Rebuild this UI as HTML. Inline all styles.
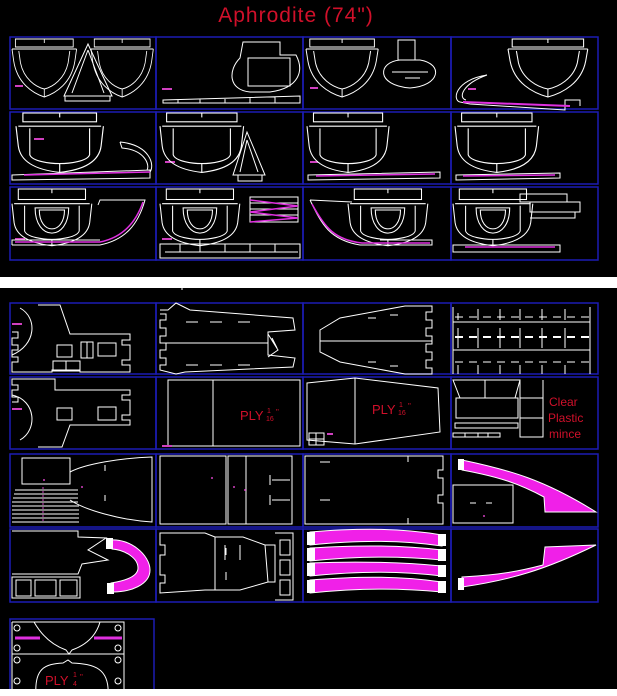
<!DOCTYPE html>
<html><head><meta charset="utf-8"><style>
html,body{margin:0;padding:0;background:#000;}
svg{display:block}
</style></head><body>
<svg width="617" height="696" viewBox="0 0 617 696" xmlns="http://www.w3.org/2000/svg">
<rect width="617" height="696" fill="#000"/>
<defs>
<g id="hu" fill="none" stroke="#fff" stroke-width="1">
<rect x="4" y="0" width="68" height="8"/><path d="M38,0V4"/>
<path d="M0,10H76"/>
<path d="M0,10 L2,22 C6,44 24,54 38,58 C52,54 70,44 74,22 L76,10"/>
<path d="M8,12 L10,24 C14,40 28,48 38,50 C48,48 62,40 66,24 L68,12"/>
<path d="M38,50V58"/>
</g>
<g id="hb" fill="none" stroke="#fff" stroke-width="1">
<rect x="6" y="0" width="64" height="8"/><path d="M38,0V4"/>
<path d="M2,12H74"/>
<path d="M0,12 L2,30 C4,46 20,52 38,54 C56,52 72,46 74,30 L76,12"/>
<path d="M12,14 L12,38 C14,44 30,46 38,46 C46,46 62,44 64,38 L64,14"/>
<path d="M38,46V54"/>
</g>
<g id="hd" fill="none" stroke="#fff" stroke-width="1">
<rect x="6" y="0" width="64" height="10"/><path d="M38,0V4"/>
<path d="M2,14H74"/>
<path d="M0,14 L2,32 C4,46 20,52 38,54 C56,52 72,46 74,32 L76,14"/>
<path d="M12,16 L12,40 C14,46 30,48 38,48 C46,48 62,46 64,40 L64,16"/>
<path d="M22,18 H54 C54,34 46,42 38,42 C30,42 22,34 22,18Z"/>
<path d="M26,20 H50 C50,32 44,38 38,38 C32,38 26,32 26,20Z"/>
<path d="M38,48V54"/>
</g>
</defs>
<text x="296" y="22" fill="#d0102a" font-family="Liberation Sans, sans-serif" font-size="21" text-anchor="middle" letter-spacing="1">Aphrodite (74")</text>
<g fill="none" stroke="#1c1cb4" stroke-width="1.5">
<rect x="10" y="37" width="146" height="72"/><rect x="156" y="37" width="147" height="72"/><rect x="303" y="37" width="148" height="72"/><rect x="451" y="37" width="147" height="72"/>
<rect x="10" y="112" width="146" height="72"/><rect x="156" y="112" width="147" height="72"/><rect x="303" y="112" width="148" height="72"/><rect x="451" y="112" width="147" height="72"/>
<rect x="10" y="187" width="146" height="73"/><rect x="156" y="187" width="147" height="73"/><rect x="303" y="187" width="148" height="73"/><rect x="451" y="187" width="147" height="73"/>
<rect x="10" y="303" width="146" height="71"/><rect x="156" y="303" width="147" height="71"/><rect x="303" y="303" width="148" height="71"/><rect x="451" y="303" width="147" height="71"/>
<rect x="10" y="377" width="146" height="72"/><rect x="156" y="377" width="147" height="72"/><rect x="303" y="377" width="148" height="72"/><rect x="451" y="377" width="147" height="72"/>
<rect x="10" y="454" width="146" height="73"/><rect x="156" y="454" width="147" height="73"/><rect x="303" y="454" width="148" height="73"/><rect x="451" y="454" width="147" height="73"/>
<rect x="10" y="529" width="146" height="73"/><rect x="156" y="529" width="147" height="73"/><rect x="303" y="529" width="148" height="73"/><rect x="451" y="529" width="147" height="73"/>
<rect x="10" y="619" width="144" height="77"/>
</g>
<rect x="0" y="277" width="617" height="11" fill="#fff"/>
<path d="M182,283V290" stroke="#fff"/>
<rect x="0" y="689" width="617" height="7" fill="#fff"/>
<!-- Top row 1 -->
<use href="#hu" transform="translate(12,39) scale(0.85,1)"/>
<use href="#hu" transform="translate(91,39) scale(0.82,1)"/>
<g fill="none" stroke="#fff">
<path d="M88,44 L64,96 L112,96Z M88,50 L72,93 M88,50 L104,93"/>
<rect x="65" y="96" width="45" height="5"/>
<path d="M163,100 L300,96 L300,103 L163,103Z M178,100V103 M200,99V103 M225,98V103 M250,98V103 M275,97V103"/>
<path d="M243,42 H280 V55 H296 C304,70 300,88 270,92 H250 C228,90 228,70 240,58Z M248,58 H290 V86 H248Z"/>
<path d="M398,40 H415 V60 H398Z M400,60 C378,62 375,85 410,88 C440,86 444,64 420,60Z M392,72 H428 M405,78 H420"/>
<path d="M487,75 C455,80 452,100 460,102 L470,104 L565,110 V100 L580,100 V106 M487,75 C462,84 458,98 466,100"/>
</g>
<use href="#hu" transform="translate(306,39) scale(0.95,1)"/>
<use href="#hu" transform="translate(508,39) scale(1.05,1)"/>
<path d="M463,102 L570,106" stroke="#e030e0" stroke-width="2"/>
<g fill="#d040c0"><rect x="15" y="85" width="8" height="2"/><rect x="162" y="88" width="10" height="2"/><rect x="310" y="87" width="8" height="2"/><rect x="468" y="88" width="8" height="2"/>
<rect x="34" y="138" width="10" height="2"/><rect x="165" y="161" width="10" height="2"/><rect x="310" y="161" width="8" height="2"/><rect x="15" y="238" width="10" height="2"/><rect x="162" y="238" width="10" height="2"/></g>
<!-- Row 2 -->
<use href="#hb" transform="translate(16,113) scale(1.15,1.1)"/>
<use href="#hb" transform="translate(160,113) scale(1.1,1.1)"/>
<use href="#hb" transform="translate(307,113) scale(1.08,1.1)"/>
<use href="#hb" transform="translate(455,113) scale(1.1,1.1)"/>
<g fill="none" stroke="#fff">
<path d="M12,175 L150,170 L150,178 L12,180Z M120,142 C150,145 155,165 150,172 M120,142 L122,148 C145,150 150,165 147,170"/>
<path d="M247,132 L233,175 L265,175Z M247,140 L240,172 M247,140 L258,172 M238,175 V181 H262 V175"/>
<path d="M308,175 L440,172 V178 L308,180Z"/>
<path d="M456,175 L560,173 V178 L456,180Z"/>
</g>
<g stroke="#e030e0" stroke-width="1.5"><path d="M24,175 L150,172 M316,176 L435,174 M463,176 L555,175"/></g>
<!-- Row 3 -->
<use href="#hd" transform="translate(12,189) scale(1.05,1.05)"/>
<use href="#hd" transform="translate(160,189) scale(1.05,1.05)"/>
<use href="#hd" transform="translate(348,189) scale(1.05,1.05)"/>
<use href="#hd" transform="translate(453,189) scale(1.05,1.05)"/>
<g fill="none" stroke="#fff">
<path d="M12,245 L100,245 C125,240 138,225 145,200 L100,200 L98,205 M12,245 V240 H100"/>
<path d="M160,244 H300 V258 H160Z M165,252 H298 M180,244V252 M200,244V252 M225,244V252 M250,244V252 M275,244V252"/>
<path d="M250,197 H298 V222 H250Z M250,203 H298 M250,209 H298 M250,215 H298"/>
<path d="M310,200 L352,202 M310,200 C322,225 330,240 360,245 H432 V240 H380"/>
<path d="M453,245 H560 V252 H453Z M520,194 H567 V202 H520Z M530,202 H580 V212 H530Z M530,212 H575 V218 H530"/>
</g>
<g stroke="#e030e0" stroke-width="1.5" fill="none"><path d="M15,242 L100,242 C120,238 135,225 143,202"/><path d="M250,200 L298,206 M250,212 L298,206 M250,212 L298,218 M250,222 L298,218"/><path d="M312,204 C325,228 335,240 362,243 H430"/><path d="M465,247 H555"/></g>
<!-- Bottom row1 -->
<g fill="none" stroke="#fff">
<path d="M20,308 C38,318 36,345 12,355 M38,305 H60 L70,334 H130 V340 H122 V345 H130 V360 H122 V365 H130 V372 H80 V370 H52 V372 H12 V362 H18 V357 H12 V350 H18 V345 H12 V338 H18 V332 H12"/>
<rect x="57" y="345" width="15" height="12"/><rect x="81" y="342" width="12" height="16"/><path d="M87,342V358"/><rect x="98" y="343" width="18" height="13"/>
<rect x="53" y="361" width="27" height="10"/><path d="M66,361V371"/>
<path d="M160,310 H168 L176,303 L190,310 L293,318 L295,330 L268,332 L268,355 L295,358 L293,367 L185,372 L176,374 L160,370 V365 H166 V358 H160 V350 H166 V343 H160 V336 H166 V328 H160 V320 H166 V314 H160 M160,343 H268"/>
<path d="M186,322 h12 M210,322 h12 M238,322 h12 M186,365 h12 M210,365 h12 M238,365 h12"/>
<path d="M268,334 L278,350 L268,357 M272,338 L277,348"/>
<path d="M320,330 L340,318 L405,306 H432 V312 H426 V320 H432 V328 H426 V336 H432 V344 H426 V352 H432 V360 H426 V368 H432 V374 H405 L340,362 L320,352 Z M320,341 H432 M368,318 h8 M390,315 h8 M368,362 h8 M390,366 h8"/>
<path d="M453,307 V374 M590,307 V374 M453,322 H590 M453,350 H590 M458,313V320 M478,309V320 M500,309V320 M520,309V320 M542,309V320 M565,309V320 M458,328V348 M478,328V348 M500,328V348 M520,328V348 M542,328V348 M565,328V348 M458,365V374 M478,365V374 M500,365V374 M520,365V374 M542,365V374 M565,365V374"/>
<path d="M455,317 H590 M455,362 H590" stroke-dasharray="8,6"/>
<path d="M455,337 H590" stroke-dasharray="8,6" stroke-width="2"/>
</g>
<rect x="12" y="323" width="10" height="2" fill="#d040c0"/>
<!-- Bottom row2 -->
<g fill="none" stroke="#fff">
<path d="M20,440 C38,430 36,400 12,395 M38,447 H62 L70,425 H130 V420 H122 V415 H130 V400 H122 V395 H130 V390 H55 V379 H12 V385 H18 V390 H12 V397 H18 V402 H12"/>
<rect x="57" y="408" width="15" height="12"/><rect x="98" y="407" width="18" height="13"/>
<rect x="168" y="380" width="132" height="66"/><path d="M213,380V446"/>
<path d="M307,383 L355,378 L438,388 L440,432 L355,444 L307,440 Z M355,378 V444"/>
<rect x="309" y="433" width="15" height="12"/><path d="M309,439H324 M316,433V445"/>
<path d="M453,380 H520 L515,398 H460Z M485,380V398 M456,398 H518 V418 H456Z M456,418 H515 M455,423 H518 V428 H455Z M520,380 V437 H543 V380 M520,398H543 M520,418H543 M453,433 H500 V437 H453Z M465,433V437 M478,433V437 M488,433V437"/>
</g>
<rect x="162" y="445" width="10" height="2" fill="#d040c0"/><rect x="12" y="408" width="10" height="2" fill="#d040c0"/><rect x="327" y="433" width="6" height="2" fill="#d040c0"/>
<g fill="#d0102a" font-family="Liberation Sans, sans-serif">
<text x="240" y="420" font-size="13">PLY</text><text x="267" y="413" font-size="7">1</text><text x="266" y="421" font-size="7">16</text><text x="276" y="415" font-size="8">"</text>
<text x="372" y="414" font-size="13">PLY</text><text x="399" y="407" font-size="7">1</text><text x="398" y="415" font-size="7">16</text><text x="408" y="409" font-size="8">"</text>
<text x="549" y="406" font-size="12">Clear</text><text x="548" y="422" font-size="12">Plastic</text><text x="549" y="438" font-size="12">mince</text>
<text x="45" y="685" font-size="13">PLY</text><text x="73" y="677" font-size="7">1</text><text x="73" y="686" font-size="7">4</text><text x="80" y="680" font-size="8">"</text>
</g>
<!-- Bottom row3 -->
<g fill="none" stroke="#fff">
<rect x="22" y="458" width="48" height="26"/>
<path d="M70,472 C85,464 120,458 152,457 V522 C120,520 85,510 70,500 M15,490 H78 M14,494 H78 M13,498 H78 M12,502 H78 M12,506 H79 M12,510 H79 M12,514 H79 M12,518 H79 M12,522 H79 M105,465V471 M105,495V501"/>
<rect x="160" y="456" width="66" height="68"/><rect x="228" y="456" width="64" height="68"/><path d="M246,456V524 M270,475V485 M270,495V505 M272,480H290 M272,500H290"/>
<path d="M305,456 H443 V470 H438 V478 H443 V495 H438 V503 H443 V524 H305Z M320,462h10 M320,500h10 M408,456V462 M408,518V524"/>
<rect x="453" y="485" width="60" height="38"/><path d="M470,503h6 M486,503h6"/>
</g>
<g fill="#d040c0"><circle cx="44" cy="480" r="1"/><circle cx="82" cy="487" r="1"/><circle cx="212" cy="478" r="1"/><circle cx="234" cy="487" r="1"/><circle cx="245" cy="490" r="1"/><circle cx="484" cy="516" r="1"/></g>
<path d="M43,487V522" stroke="#d040c0" stroke-dasharray="2,2"/>
<path d="M462,460 C510,470 545,480 596,512 L545,512 L544,497 C520,484 500,477 462,470Z" fill="#f020e8" stroke="#fff"/>
<rect x="458" y="459" width="6" height="11" fill="#fff"/>
<!-- Bottom row4 -->
<g fill="none" stroke="#fff">
<path d="M12,531 H78 V537 L106,538 L88,550 L108,560 L82,564 L78,574 H12"/>
<path d="M12,577 H80 V598 H12Z M16,580 H31 V596 H16Z M35,580 H56 V596 H35Z M60,580 H77 V596 H60Z"/>
<path d="M160,533 L205,533 L215,537 L215,590 L205,590 L160,593 V583 H165 V575 H160 V555 H165 V545 H160Z M215,537 H243 L265,545 L268,582 L240,590 H215 M225,545V560 M240,545V560 M226,548V555 M226,572V580 M265,545 H275 V582 H268 M275,533 H293 V600 H275 M280,540 H290 V555 H280Z M280,560 H290 V575 H280Z M280,580 H290 V595 H280Z"/>
</g>
<path d="M110,540 C130,538 150,555 150,570 C150,585 130,592 113,592 L111,583 C130,580 138,575 138,568 C138,558 125,550 112,549Z" fill="#f020e8" stroke="#fff"/>
<rect x="106" y="538" width="7" height="11" fill="#fff"/><rect x="107" y="583" width="7" height="11" fill="#fff"/>
<g stroke="#fff">
<path d="M310,532 C360,528 400,528 442,535 V546 C400,540 360,540 310,545Z" fill="#f020e8"/>
<path d="M310,548 C360,545 400,545 442,550 V560 C400,556 360,556 310,561Z" fill="#f020e8"/>
<path d="M310,563 C360,561 400,562 442,566 V576 C400,571 360,571 310,576Z" fill="#f020e8"/>
<path d="M310,580 C360,576 400,576 442,582 V592 C400,588 360,588 310,593Z" fill="#f020e8"/>
</g>
<g fill="#fff"><rect x="307" y="532" width="8" height="13"/><rect x="438" y="534" width="8" height="12"/><rect x="307" y="548" width="8" height="13"/><rect x="438" y="549" width="8" height="12"/><rect x="307" y="563" width="8" height="13"/><rect x="438" y="565" width="8" height="12"/><rect x="307" y="580" width="8" height="13"/><rect x="438" y="581" width="8" height="12"/></g>
<path d="M462,587 C510,580 545,570 596,545 L545,547 L543,565 C520,571 500,575 462,577Z" fill="#f020e8" stroke="#fff"/>
<rect x="458" y="578" width="6" height="12" fill="#fff"/>
<!-- Lone panel -->
<g fill="none" stroke="#fff">
<path d="M12,622 H124 V696 M12,622 V696 M12,654 H124"/>
<path d="M34,622 C42,636 52,645 66,650 L69,654 L72,650 C86,645 96,636 100,622"/>
<path d="M36,696 C34,668 45,664 63,663 L68,660 L72,663 C94,664 110,668 108,696"/>
<circle cx="17" cy="628" r="3"/><circle cx="17" cy="648" r="3"/><circle cx="17" cy="660" r="3"/><circle cx="17" cy="681" r="3"/>
<circle cx="118" cy="628" r="3"/><circle cx="118" cy="648" r="3"/><circle cx="118" cy="660" r="3"/><circle cx="118" cy="681" r="3"/>
</g>
<g stroke="#e030e0" stroke-width="3"><path d="M15,638 L40,638 M94,638 L122,638"/></g>
</svg>
</body></html>
